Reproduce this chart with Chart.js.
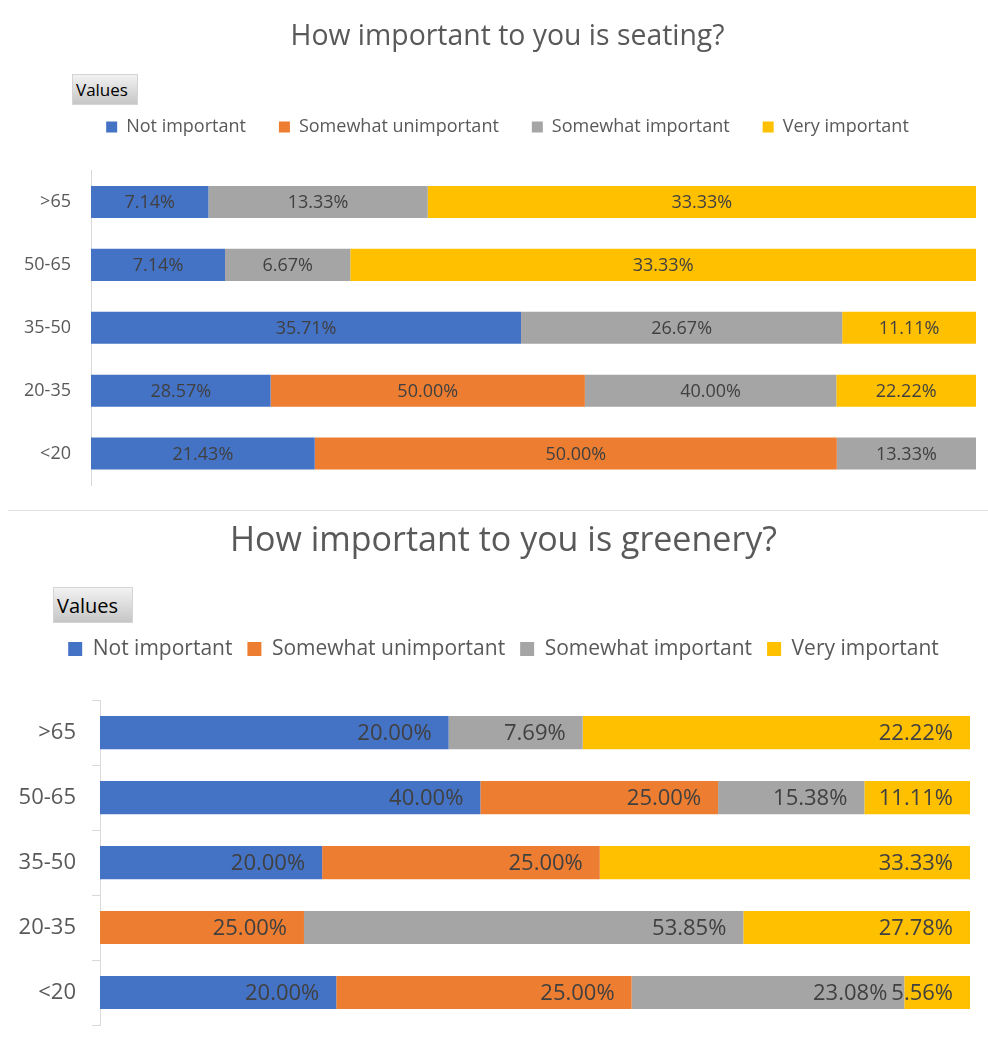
<!DOCTYPE html>
<html>
<head>
<meta charset="utf-8">
<script src="https://cdn.jsdelivr.net/npm/chart.js@4/dist/chart.umd.min.js"></script>
<style>
  html, body { margin: 0; background: #fff; overflow: hidden; }
  body { width: 988px; height: 1046px; position: relative; }
  canvas { position: absolute; left: 0; }
  #seatingChart { top: 0; }
  #greeneryChart { top: 514px; }
  .divider { position: absolute; left: 8px; top: 510px; width: 980px; height: 1px; background: #e0e0e0; }
  .values-btn {
    position: absolute; font-family: "Open Sans", sans-serif; color: #000;
    background: linear-gradient(#f2f2f2, #c6c6c6); border: 1px solid #d4d4d4;
    box-sizing: border-box; padding-left: 3px; display: flex; align-items: center;
  }
</style>
</head>
<body>
<canvas id="seatingChart" width="988" height="510"></canvas>
<div class="divider"></div>
<canvas id="greeneryChart" width="988" height="532"></canvas>
<div class="values-btn" style="left:72px;top:74px;width:66px;height:31px;font-size:17px;">Values</div>
<div class="values-btn" style="left:53px;top:587px;width:80px;height:36px;font-size:20px;">Values</div>
<script>
// Age groups (top to bottom) and answer options
const ageGroups = ['>65', '50-65', '35-50', '20-35', '<20'];
const answers = ['Not important', 'Somewhat unimportant', 'Somewhat important', 'Very important'];
const answerColors = ['#4472C4', '#ED7D31', '#A5A5A5', '#FFC000'];

// Seating: percentage per answer, per age group
const seatingNot = [7.14, 7.14, 35.71, 28.57, 21.43];
const seatingSomewhatUn = [null, null, null, 50.00, 50.00];
const seatingSomewhat = [13.33, 6.67, 26.67, 40.00, 13.33];
const seatingVery = [33.33, 33.33, 11.11, 22.22, null];

// Greenery: percentage per answer, per age group
const greeneryNot = [20.00, 40.00, 20.00, null, 20.00];
const greenerySomewhatUn = [null, 25.00, 25.00, 25.00, 25.00];
const greenerySomewhat = [7.69, 15.38, null, 53.85, 23.08];
const greeneryVery = [22.22, 11.11, 33.33, 27.78, 5.56];

// Bars are 100% stacked: each segment is its share of the row total
function buildDatasets(series) {
    const totals = ageGroups.map((_, j) => series.reduce((s, arr) => s + (arr[j] || 0), 0));
    return series.map((arr, i) => ({
        label: answers[i],
        values: arr,
        data: arr.map((v, j) => v == null ? null : v / totals[j] * 100),
        backgroundColor: answerColors[i],
        borderWidth: 0
    }));
}

// Writes the percentage on each bar segment
const segmentLabels = {
    id: 'segmentLabels',
    afterDatasetsDraw(chart, args, opts) {
        const ctx = chart.ctx;
        ctx.save();
        ctx.font = opts.size + 'px "Open Sans"';
        ctx.fillStyle = '#404040';
        ctx.textBaseline = 'middle';
        chart.data.datasets.forEach((ds, i) => {
            chart.getDatasetMeta(i).data.forEach((bar, j) => {
                const v = ds.values[j];
                if (v == null) return;
                const text = v.toFixed(2) + '%';
                if (opts.align === 'center') {
                    ctx.textAlign = 'center';
                    ctx.fillText(text, (bar.x + bar.base) / 2, bar.y + 1);
                } else {
                    ctx.textAlign = 'right';
                    ctx.fillText(text, bar.x - opts.inset, bar.y + 1);
                }
            });
        });
        ctx.restore();
    }
};

// Extra room between legend and bars
const legendGap = {
    id: 'legendGap',
    beforeInit(chart, args, opts) {
        const fit = chart.legend.fit;
        chart.legend.fit = function () {
            fit.bind(chart.legend)();
            this.height += opts.gap;
        };
    }
};

// Title and legend are centred on the whole card, not only the plot
const headerShift = {
    id: 'headerShift',
    afterLayout(chart, args, opts) {
        [chart.titleBlock, chart.legend].forEach(box => {
            box.left += opts.shift;
            box.right += opts.shift;
        });
    }
};

function makeChart(id, series, cfg) {
    return new Chart(document.getElementById(id), {
        type: 'bar',
        data: { labels: ageGroups, datasets: buildDatasets(series) },
        plugins: [segmentLabels, legendGap, headerShift],
        options: {
            indexAxis: 'y',
            responsive: false,
            animation: false,
            layout: { padding: cfg.padding },
            datasets: { bar: { barPercentage: 0.51, categoryPercentage: 1 } },
            scales: {
                x: { stacked: true, min: 0, max: 100, display: false },
                y: {
                    stacked: true,
                    afterFit: (scale) => {
                        scale.width = cfg.axisWidth;
                        scale.paddingTop = 0;
                        scale.paddingBottom = 0;
                    },
                    grid: cfg.grid,
                    border: { display: true, color: '#d9d9d9', width: 1 },
                    ticks: {
                        color: '#595959',
                        padding: cfg.tickPadding,
                        font: { family: 'Open Sans', size: cfg.tickSize }
                    }
                }
            },
            plugins: {
                tooltip: { enabled: false },
                title: {
                    display: true,
                    text: cfg.title,
                    color: '#595959',
                    font: { family: 'Open Sans', size: cfg.titleSize, weight: 'normal' },
                    padding: cfg.titlePadding
                },
                legend: {
                    display: true,
                    labels: {
                        color: '#595959',
                        boxWidth: cfg.box,
                        boxHeight: cfg.box,
                        padding: cfg.legendPadding,
                        font: { family: 'Open Sans', size: cfg.legendSize }
                    }
                },
                legendGap: { gap: cfg.legendGap },
                headerShift: { shift: cfg.shift },
                segmentLabels: cfg.labels
            }
        }
    });
}

makeChart('seatingChart',
    [seatingNot, seatingSomewhatUn, seatingSomewhat, seatingVery], {
    title: 'How important to you is seating?',
    titleSize: 28.4,
    titlePadding: { top: 20, bottom: 31 },
    legendSize: 18,
    legendPadding: 33,
    legendGap: 24.5,
    box: 11,
    shift: 19.5,
    padding: { left: 0, right: 12, top: 0, bottom: 25 },
    axisWidth: 91,
    tickSize: 18,
    tickPadding: 12,
    grid: { display: false, drawTicks: true, tickLength: 8 },
    labels: { align: 'center', size: 18 }
});

makeChart('greeneryChart',
    [greeneryNot, greenerySomewhatUn, greenerySomewhat, greeneryVery], {
    title: 'How important to you is greenery?',
    titleSize: 34,
    titlePadding: { top: 6.6, bottom: 62 },
    legendSize: 21,
    legendPadding: 15,
    legendGap: 30.75,
    box: 14,
    shift: 18.5,
    padding: { left: 0, right: 18, top: 0, bottom: 21 },
    axisWidth: 100,
    tickSize: 22,
    tickPadding: 16,
    grid: { display: true, drawOnChartArea: false, drawTicks: true, tickLength: 8, color: '#d9d9d9', offset: true },
    labels: { align: 'end', size: 22, inset: 17 }
});
</script>
</body>
</html>
